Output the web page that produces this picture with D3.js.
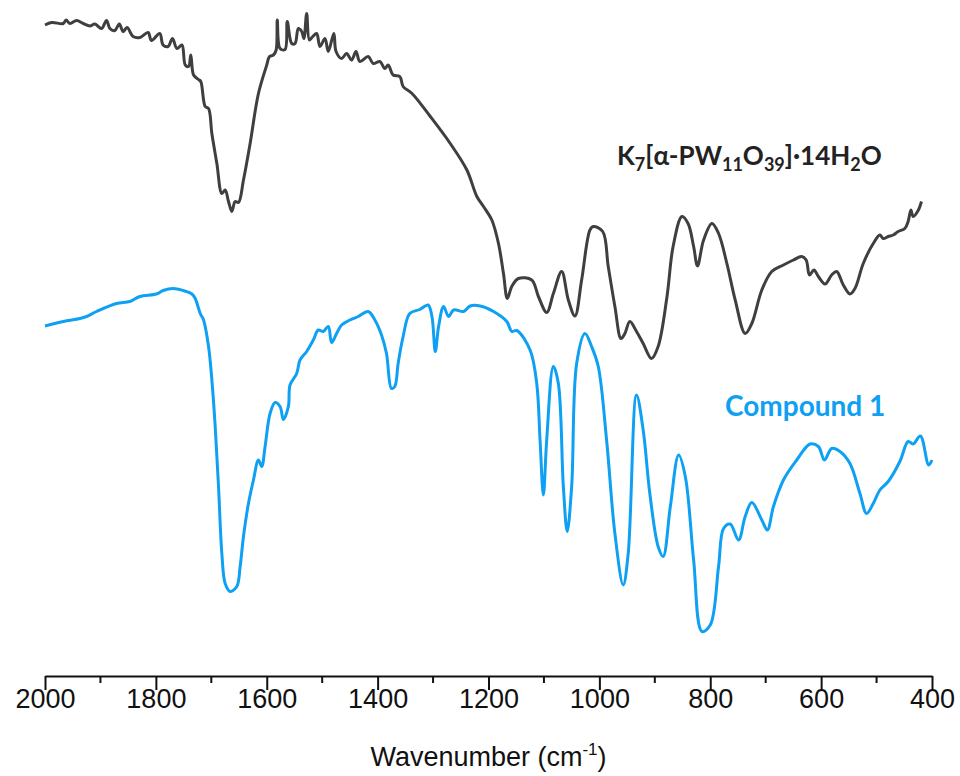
<!DOCTYPE html>
<html>
<head>
<meta charset="utf-8">
<script src="https://cdn.jsdelivr.net/npm/d3@7"></script>
<style>
  body { margin: 0; background: #fff; }
  svg { display: block; }
</style>
</head>
<body>
<div id="chart"></div>
<script>
// FTIR spectra, transmittance in arbitrary units (offset traces)
var refWavenumber = [2000,1988,1967,1962,1955,1943,1931,1919,1910,1898,1889,1883,1874,1866,1859,1852,1841,1829,1814,1808,1793,1787,1778,1770,1762,1753,1747,1741,1737,1732,1723,1719,1711,1705,1699,1690,1681,1675,1669,1663,1657,1651,1642,1630,1615,1600,1595,1588,1583,1581,1576,1567,1563,1555,1549,1543,1537,1533,1528,1523,1517,1510,1504,1495,1489,1479,1475,1465,1456,1447,1439,1432,1417,1408,1396,1387,1381,1372,1360,1354,1338,1305,1269,1239,1221,1209,1194,1182,1173,1166,1158,1146,1122,1110,1095,1083,1068,1056,1044,1032,1017,1011,994,984,972,961,954,945,933,921,906,894,878,867,851,840,830,823,812,797,785,770,755,737,725,707,689,668,650,635,627,621,613,605,593,581,572,560,548,539,524,506,494,488,479,470,461,449,443,438,434,425,419];
var refT = [130.2,130.7,130.5,131.2,130.5,131.1,130.5,130.0,130.4,129.5,131.1,129.5,129.1,130.4,128.9,129.7,127.9,127.7,128.7,127.1,128.5,126.2,125.9,127.5,125.5,126.2,122.2,121.9,124.2,120.2,119.3,118.9,113.9,113.5,108.5,102.5,96.5,97.2,94.9,92.9,94.9,94.7,99.2,106.5,116.5,122.2,123.9,124.2,125.2,131.2,125.5,125.3,130.9,126.5,126.5,129.5,128.9,127.5,132.5,127.2,127.9,128.5,125.9,127.5,124.9,128.5,124.9,123.5,124.5,123.2,124.9,122.9,123.9,122.5,122.9,121.5,122.2,120.2,119.9,117.9,116.5,111.9,106.5,101.2,95.9,93.9,91.2,86.5,80.5,75.5,77.9,79.5,79.2,75.9,72.7,76.5,80.9,75.2,72.0,79.2,89.2,89.9,88.9,81.9,73.9,67.5,68.5,70.9,68.9,66.5,63.5,65.9,75.9,85.9,91.9,90.5,85.9,82.0,87.2,90.5,88.5,82.5,75.2,68.5,70.5,77.2,80.9,82.2,83.2,83.9,83.2,80.2,81.2,79.9,78.4,80.2,80.9,78.2,76.4,77.5,82.5,86.5,88.2,87.5,87.9,88.2,88.9,89.5,90.9,93.2,91.9,93.1,94.9];

var cmpWavenumber = [2000,1967,1937,1925,1907,1871,1847,1829,1799,1787,1769,1751,1735,1729,1720,1714,1705,1699,1693,1687,1681,1675,1666,1654,1648,1642,1633,1624,1615,1609,1603,1594,1585,1576,1570,1561,1558,1546,1540,1528,1516,1507,1498,1489,1483,1474,1465,1450,1435,1417,1405,1393,1384,1375,1369,1363,1354,1342,1324,1309,1302,1296,1290,1281,1272,1263,1245,1233,1215,1191,1167,1158,1149,1125,1113,1107,1101,1095,1083,1074,1065,1058,1050,1041,1026,1014,1002,987,972,957,948,933,921,909,894,885,872,857,845,830,815,800,785,776,764,749,737,725,707,697,686,668,644,620,605,594,581,566,548,530,518,506,494,479,458,443,434,421,406,400];
var cmpT = [70.0,70.9,71.5,71.9,72.9,74.5,74.9,75.9,76.4,77.1,77.5,77.1,76.4,75.5,72.5,71.2,65.9,59.2,49.9,37.9,24.5,18.5,16.9,17.9,21.9,27.9,34.5,39.2,43.2,41.9,45.9,52.5,54.7,53.9,51.3,53.9,58.2,60.5,63.2,64.9,67.2,69.2,68.9,69.9,66.7,68.5,70.2,71.2,71.9,72.9,71.2,68.2,64.5,57.5,57.9,62.5,67.9,72.5,73.3,74.2,71.9,64.9,69.9,73.9,71.9,73.2,72.9,74.0,74.0,72.9,70.9,68.9,69.1,65.2,58.5,47.2,36.2,47.2,61.9,58.5,37.9,28.9,37.9,62.5,68.5,65.9,61.9,47.2,28.5,18.2,24.5,56.2,49.2,36.5,25.9,23.9,33.9,44.2,39.9,23.2,8.9,10.2,21.9,29.5,30.4,27.2,31.9,34.7,31.2,29.2,33.9,39.2,43.2,46.4,45.9,43.2,45.5,44.9,42.5,36.5,32.5,34.5,37.2,38.9,42.9,46.9,46.4,48.0,42.2,43.2];

var xTicks = [2000,1800,1600,1400,1200,1000,800,600,400];
var xMinorTicks = [1900,1700,1500,1300,1100,900,700,500];

var seriesNames = ["K7[α-PW11O39]·14H2O", "Compound 1"];
var seriesColors = ["#3f3f3f", "#0ea0f2"];

var width = 960, height = 776;
var margin = {top: 26, right: 28, bottom: 100, left: 45};

var svg = d3.select("#chart").append("svg")
    .attr("width", width)
    .attr("height", height);

var x = d3.scaleLinear().domain([2000, 400]).range([margin.left, width - margin.right]);
var y = d3.scaleLinear().domain([0, 130]).range([height - margin.bottom, margin.top]);

var line = d3.line()
    .x(function (d) { return x(d[0]); })
    .y(function (d) { return y(d[1]); })
    .curve(d3.curveCatmullRom.alpha(0.5));

var series = [d3.zip(refWavenumber, refT), d3.zip(cmpWavenumber, cmpT)];

svg.selectAll("path.trace")
    .data(series)
    .enter()
    .append("path")
    .attr("class", "trace")
    .attr("d", line)
    .attr("fill", "none")
    .attr("stroke", function (d, i) { return seriesColors[i]; })
    .attr("stroke-width", 3)
    .attr("stroke-linejoin", "round");

// x axis
var axisY = y(0);
var gx = svg.append("g").attr("transform", "translate(0," + axisY + ")");
gx.call(d3.axisBottom(x).tickValues(xTicks).tickSize(14).tickSizeOuter(0).tickFormat(d3.format("d")));
gx.select(".domain").attr("stroke", "#111").attr("stroke-width", 2);
gx.selectAll(".tick line").attr("stroke", "#111").attr("stroke-width", 2);
gx.selectAll(".tick text")
    .attr("y", 32)
    .attr("dy", 0)
    .style("font-family", "'Liberation Sans', Arial, sans-serif")
    .style("font-size", "27px")
    .attr("fill", "#111");

gx.selectAll("line.minor")
    .data(xMinorTicks)
    .enter()
    .append("line")
    .attr("class", "minor")
    .attr("x1", function (d) { return x(d); })
    .attr("x2", function (d) { return x(d); })
    .attr("y1", 0)
    .attr("y2", 7)
    .attr("stroke", "#111")
    .attr("stroke-width", 2);

// axis title
var title = svg.append("text")
    .attr("x", (margin.left + width - margin.right) / 2)
    .attr("y", 766)
    .attr("text-anchor", "middle")
    .style("font-family", "'Liberation Sans', Arial, sans-serif")
    .style("font-size", "27px")
    .attr("fill", "#111");
title.append("tspan").text("Wavenumber (cm");
title.append("tspan").attr("dy", -11).style("font-size", "17px").text("-1");
title.append("tspan").attr("dy", 11).text(")");

// series labels
var lab1 = svg.append("text")
    .attr("x", 617)
    .attr("y", 165)
    .style("font-family", "Lato, 'Open Sans', sans-serif")
    .style("font-weight", "bold")
    .style("font-size", "26px")
    .attr("fill", "#222");
var parts = [["K", 0], ["7", 1], ["[α-PW", 0], ["11", 1], ["O", 0], ["39", 1], ["]·14H", 0], ["2", 1], ["O", 0]];
var prevSub = 0;
parts.forEach(function (p) {
    var t = lab1.append("tspan").text(p[0]);
    if (p[1]) t.style("font-size", "18px");
    var dy = (p[1] - prevSub) * 6;
    if (dy) t.attr("dy", dy);
    prevSub = p[1];
});

svg.append("text")
    .attr("x", 725)
    .attr("y", 416)
    .style("font-family", "Lato, 'Open Sans', sans-serif")
    .style("font-weight", "bold")
    .style("font-size", "28px")
    .attr("fill", seriesColors[1])
    .text(seriesNames[1]);
</script>
</body>
</html>
